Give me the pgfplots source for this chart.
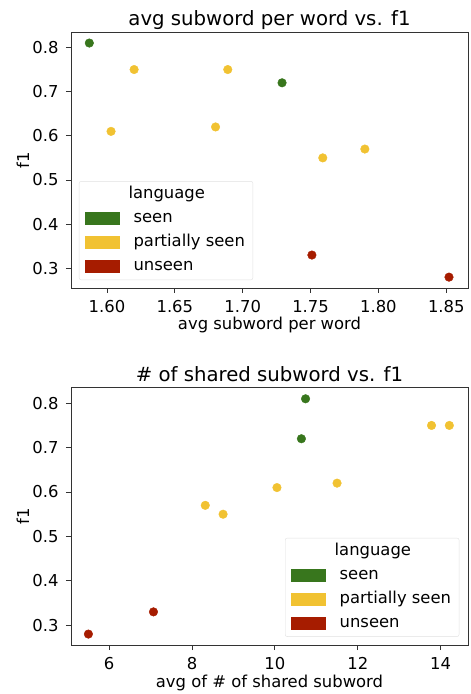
\documentclass[border=0pt]{standalone}
\usepackage{pgfplots}
\pgfplotsset{compat=1.18}
\usepackage{fontspec}
\setmainfont{DejaVu Sans}
\definecolor{cseen}{HTML}{38761D}
\definecolor{cpart}{HTML}{F1C232}
\definecolor{cunseen}{HTML}{A61C00}
\definecolor{axgray}{HTML}{333333}
\pgfplotsset{
  myax/.style={
    scale only axis, width=397pt,
    axis line style={axgray, line width=0.8pt},
    tick style={axgray, line width=0.8pt},
    major tick length=5pt, tick align=outside, tick pos=left,
    ticklabel style={font=\fontsize{16.4}{19}\selectfont},
    xticklabel style={yshift=-4pt},
    yticklabel style={xshift=-4pt},
    /pgf/number format/assume math mode=true,
    every axis title/.style={at={(0.5,1)}, anchor=base, yshift=6.3pt, font=\fontsize{19.7}{23}\selectfont},
    every axis x label/.style={at={(axis description cs:0.5,0)}, anchor=base, yshift=-42pt, font=\fontsize{16.4}{19}\selectfont},
    every axis y label/.style={at={(axis description cs:0,0.5)}, xshift=-48pt, rotate=90, anchor=center, font=\fontsize{16.4}{19}\selectfont},
    ytick={0.3,0.4,0.5,0.6,0.7,0.8},
    yticklabel style={/pgf/number format/.cd, fixed, fixed zerofill, precision=1},
    ymin=0.2554, ymax=0.835,
    ylabel={f1},
    legend style={draw=black!12, rounded corners=2pt, fill=white,
      font=\fontsize{16.4}{19}\selectfont,
      nodes={text height=12pt, text depth=3.5pt, inner sep=2.5pt},
      row sep=3.5pt, inner xsep=5.5pt, inner ysep=3pt,
      /tikz/every odd column/.append style={column sep=12pt}},
    legend cell align=left,
  },
  pseen/.style={only marks, mark=*, mark size=4.3pt, color=cseen,
    legend image code/.code={\fill[cseen, sharp corners] (0pt,-6pt) rectangle (34pt,6pt);}},
  ppart/.style={only marks, mark=*, mark size=4.3pt, color=cpart,
    legend image code/.code={\fill[cpart, sharp corners] (0pt,-6pt) rectangle (34pt,6pt);}},
  punseen/.style={only marks, mark=*, mark size=4.3pt, color=cunseen,
    legend image code/.code={\fill[cunseen, sharp corners] (0pt,-6pt) rectangle (34pt,6pt);}},
}
\begin{document}
\begin{tikzpicture}
\useasboundingbox (0,0) rectangle (471pt,694pt);
% top
\begin{axis}[myax, at={(71pt,406pt)}, anchor=south west, height=256pt,
  title={avg subword per word vs. f1},
  xlabel={avg subword per word},
  xmin=1.5735, xmax=1.866,
  xtick={1.60,1.65,1.70,1.75,1.80,1.85},
  xticklabel style={/pgf/number format/.cd, fixed, fixed zerofill, precision=2},
  legend style={at={(0.02,0.031)}, anchor=south west},
]
\addlegendimage{empty legend}\addlegendentry{\hspace*{-5pt}language}
\addplot[pseen] coordinates {(1.587,0.81) (1.729,0.72)};
\addlegendentry{seen}
\addplot[ppart] coordinates {(1.620,0.75) (1.689,0.75) (1.603,0.61) (1.680,0.62) (1.759,0.55) (1.790,0.57)};
\addlegendentry{partially seen}
\addplot[punseen] coordinates {(1.751,0.33) (1.852,0.28)};
\addlegendentry{unseen}
\end{axis}
% bottom
\begin{axis}[myax, at={(71pt,49pt)}, anchor=south west, height=257.3pt,
  title={\# of shared subword vs. f1},
  xlabel={avg of \# of shared subword},
  xmin=5.08, xmax=14.66,
  xtick={6,8,10,12,14},
  legend style={at={(0.978,0.032)}, anchor=south east},
]
\addlegendimage{empty legend}\addlegendentry{\hspace*{-5pt}language}
\addplot[pseen] coordinates {(10.74,0.81) (10.64,0.72)};
\addlegendentry{seen}
\addplot[ppart] coordinates {(13.78,0.75) (14.21,0.75) (8.32,0.57) (8.75,0.55) (10.05,0.61) (11.50,0.62)};
\addlegendentry{partially seen}
\addplot[punseen] coordinates {(5.50,0.28) (7.07,0.33)};
\addlegendentry{unseen}
\end{axis}
\end{tikzpicture}
\end{document}
